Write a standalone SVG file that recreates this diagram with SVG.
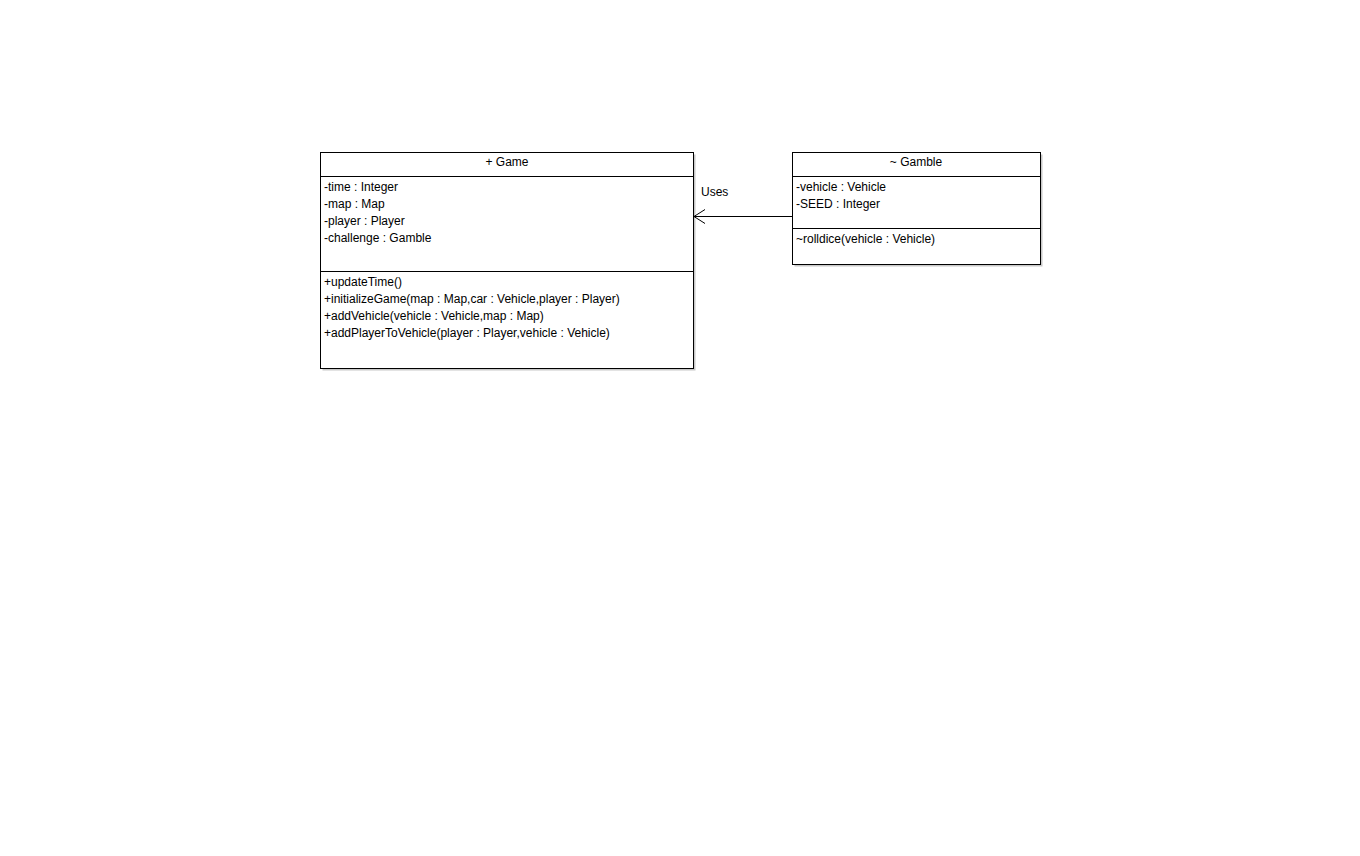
<svg xmlns="http://www.w3.org/2000/svg" width="1360" height="856" viewBox="0 0 1360 856">
<style>
.box{fill:#fff;stroke:#000;stroke-width:1}
.sh{fill:#c8c8c8}
.div{stroke:#000;stroke-width:1}
text{font-family:"Liberation Sans",Arial,sans-serif;font-size:12px;fill:#000}
.t{text-anchor:middle}
.edge{stroke:#000;stroke-width:1;fill:none}
</style>
<rect width="1360" height="856" fill="#fff"/>
<g id="node-game">
<rect class="sh" x="322.5" y="154.5" width="373" height="216"/>
<rect class="box" x="320.5" y="152.5" width="373" height="216"/>
<line class="div" x1="320.5" y1="176.5" x2="693.5" y2="176.5"/>
<line class="div" x1="320.5" y1="271.5" x2="693.5" y2="271.5"/>
<text class="t" x="507" y="165.5">+ Game</text>
<text x="324" y="190.5">-time : Integer</text>
<text x="324" y="207.5">-map : Map</text>
<text x="324" y="224.5">-player : Player</text>
<text x="324" y="241.5">-challenge : Gamble</text>
<text x="324" y="285.5">+updateTime()</text>
<text x="324" y="302.5">+initializeGame(map : Map,car : Vehicle,player : Player)</text>
<text x="324" y="319.5">+addVehicle(vehicle : Vehicle,map : Map)</text>
<text x="324" y="336.5">+addPlayerToVehicle(player : Player,vehicle : Vehicle)</text>
</g>
<g id="node-gamble">
<rect class="sh" x="794.5" y="154.5" width="248" height="112"/>
<rect class="box" x="792.5" y="152.5" width="248" height="112"/>
<line class="div" x1="792.5" y1="176.5" x2="1040.5" y2="176.5"/>
<line class="div" x1="792.5" y1="228.5" x2="1040.5" y2="228.5"/>
<text class="t" x="916" y="165.5">~ Gamble</text>
<text x="796" y="190.5">-vehicle : Vehicle</text>
<text x="796" y="207.5">-SEED : Integer</text>
<text x="796" y="242.5">~rolldice(vehicle : Vehicle)</text>
</g>
<g id="connectors">
<line class="edge" x1="792" y1="216.5" x2="694" y2="216.5"/>
<polyline class="edge" points="705,209.5 694,216.5 705,223.5"/>
<text x="701" y="195.5">Uses</text>
</g>
</svg>
